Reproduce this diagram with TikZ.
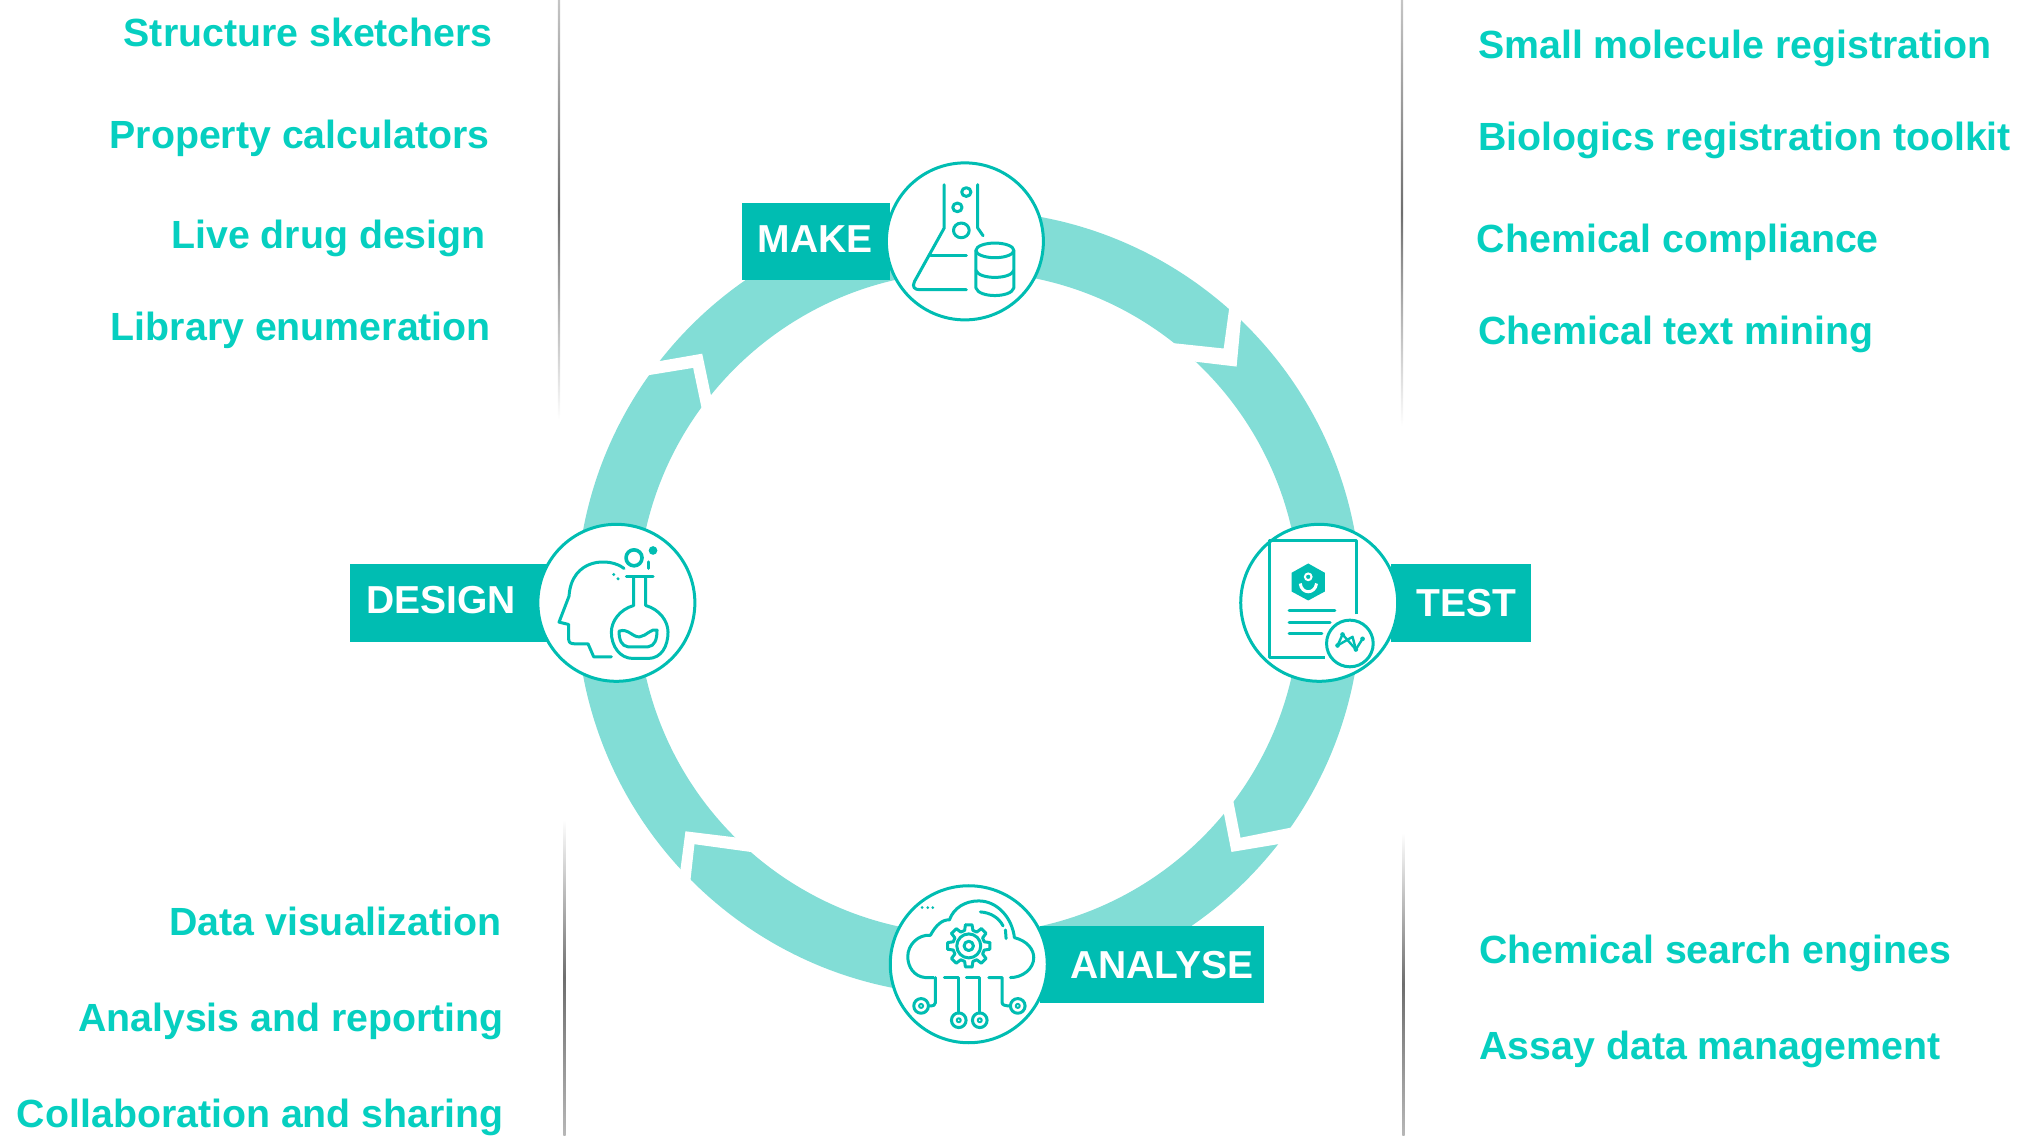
\documentclass[tikz,border=0pt]{standalone}
\usepackage{fontspec}
\setmainfont{Liberation Sans}
\definecolor{ringc}{HTML}{82DDD6}
\definecolor{boxc}{HTML}{00BDB2}
\definecolor{txtc}{HTML}{06CFC0}
\definecolor{rulec}{HTML}{6E6E6E}
\tikzset{
  itemr/.style={anchor=base east,text=txtc,font=\fontsize{39.3}{44}\selectfont\bfseries,inner sep=0pt},
  iteml/.style={anchor=base west,text=txtc,font=\fontsize{39.3}{44}\selectfont\bfseries,inner sep=0pt},
  stagebox/.style={fill=boxc,draw=none,minimum height=77.4pt,inner sep=0pt},
  stagetext/.style={text=white,font=\fontsize{39}{44}\selectfont\bfseries,inner sep=0pt},
  disc/.style={circle,fill=white,draw=boxc,line width=3pt,minimum size=157pt,inner sep=0pt},
  ic/.style={draw=boxc,line width=3pt,line cap=round,line join=round},
  icf/.style={fill=boxc,draw=none},
  gapw/.style={fill=white,draw=none},
  vruletop/.style={top color=rulec!40,bottom color=white,middle color=rulec,draw=none},
  vrulebot/.style={top color=white,bottom color=rulec!50,middle color=rulec,draw=none}
}
\begin{document}
\begin{tikzpicture}[x=1.2908pt,y=-1.2908pt]
\useasboundingbox (0,0) rectangle (1568,879.3);
% ring
\fill[ringc,even odd rule] (750.5,467) circle [radius=304] (750.5,467) circle [radius=256.5];
% gaps
\fill[gapw] (954,226)--(948,270)--(901,265)--(916,279)--(958,284)--(963,230)--cycle;
\fill[gapw] (952,603)--(961,649)--(1011,639)--(1002,652)--(954,660)--(945,614)--cycle;
\fill[gapw] (533,699)--(538,654)--(596,662)--(580,650)--(531,644)--(525,690)--cycle;
\fill[gapw] (488,293)--(537,285)--(546,328)--(553,317)--(544,274)--(498,282)--cycle;
% rules
\fill[vruletop] (432.2,0) rectangle (434,325);
\fill[vruletop] (1085.2,0) rectangle (1087,330);
\fill[vrulebot] (436.4,635) rectangle (438.2,879.3);
\fill[vrulebot] (1086.4,645) rectangle (1088.2,879.3);
% boxes
\node[stagebox,minimum width=148pt,anchor=west] (makebox) at (575,187) {};
\node[stagetext] (maket) at (631.5,185) {MAKE};
\node[stagebox,minimum width=199pt,anchor=west] (designbox) at (271,467) {};
\node[stagetext] (designt) at (341.5,465) {DESIGN};
\node[stagebox,minimum width=140pt,anchor=east] (testbox) at (1186,467) {};
\node[stagetext] (testt) at (1136,467) {TEST};
\node[stagebox,minimum width=224pt,anchor=east] (analysebox) at (979,747) {};
\node[stagetext] (analyset) at (900,748) {ANALYSE};
% discs
\node[disc] (make) at (747.5,187) {};
\node[disc] (design) at (477.5,467) {};
\node[disc] (test) at (1022,467) {};
\node[disc] (analyse) at (750.5,747) {};
% MAKE icon
\begin{scope}[shift={(make.center)},x=0.357pt,y=-0.3333pt,shift={(-686,-305)}]
\draw[ic] (628,135)--(628,265)--(545,425) .. controls (537,442) and (545,450) .. (560,450)--(690,450);
\draw[ic] (722,135)--(722,265)--(737,288);
\draw[ic] (590,347)--(690,347);
\draw[ic] (690,157) circle [radius=13];
\draw[ic] (665,203) circle [radius=13];
\draw[ic] (676,272) circle [radius=22];
\draw[ic] (770,332) ellipse [x radius=53,y radius=22];
\draw[ic] (717,332)--(717,445) .. controls (725,475) and (815,475) .. (823,445)--(823,332);
\draw[ic] (717,392) .. controls (725,420) and (815,420) .. (823,392);
\end{scope}
% DESIGN icon
\begin{scope}[shift={(design.center)},x=0.3333pt,y=-0.3333pt,shift={(-830,-310)}]
\draw[ic] (853,207) .. controls (810,172) and (695,175) .. (688,290)--(658,368)--(687,375)--(687,420) .. controls (687,430) and (695,433) .. (705,433)--(745,433)--(762,472)--(815,472);
\fill[icf] (822,225) circle [radius=5];
\fill[icf] (835,238) circle [radius=5];
\draw[ic,line width=3.6pt] (883,175) circle [radius=24];
\fill[icf] (940,153) circle [radius=13];
\draw[ic] (926,187)--(926,207);
\draw[ic] (860,232)--(940,232);
\draw[ic] (882,232)--(882,318) .. controls (840,330) and (815,365) .. (815,398) .. controls (815,440) and (840,477) .. (880,477)--(925,477) .. controls (965,477) and (985,440) .. (985,398) .. controls (985,365) and (960,330) .. (918,318)--(918,232);
\draw[ic] (838,395) .. controls (865,385) and (880,415) .. (900,412) .. controls (920,410) and (935,385) .. (952,392) .. controls (952,420) and (945,440) .. (925,442)--(865,442) .. controls (845,440) and (838,420) .. (838,395)--cycle;
\end{scope}
% TEST icon
\begin{scope}[shift={(test.center)},x=0.3333pt,y=-0.3333pt,shift={(-295,-310)}]
\draw[ic,line cap=butt] (408,345)--(408,122)--(147,122)--(147,475)--(312,475);
\fill[icf] (262,192)--(312,220)--(312,276)--(262,303)--(212,276)--(212,220)--cycle;
\draw[white,line width=2pt] (262,232) circle [radius=10];
\draw[white,line width=3pt] (238,252) .. controls (242,285) and (282,285) .. (287,252);
\draw[ic] (205,333)--(342,333);
\draw[ic] (205,368)--(328,368);
\draw[ic] (205,403)--(303,403);
\draw[ic,fill=white] (387,432) circle [radius=70];
\draw[ic,line width=2.4pt] (350,438)--(365,405)--(405,450)--(425,418);
\draw[ic,line width=2.4pt] (350,438)--(395,412)--(405,450);
\foreach \p in {(350,438),(365,405),(405,450),(425,418)} \fill[icf] \p circle [radius=7];
\end{scope}
% ANALYSE icon
\begin{scope}[shift={(analyse.center)},x=0.3333pt,y=-0.3333pt,shift={(-265,-285)}]
\draw[ic] (160,325)--(135,325) .. controls (100,322) and (82,292) .. (82,262) .. controls (82,225) and (115,195) .. (150,198) .. controls (165,170) and (185,150) .. (207,152) .. controls (220,115) and (255,95) .. (295,95) .. controls (350,95) and (395,145) .. (402,205) .. controls (440,215) and (460,240) .. (460,265) .. controls (460,300) and (425,325) .. (390,325);
\draw[ic] (300,128) .. controls (330,130) and (355,145) .. (368,170);
\draw[ic] (375,182)--(377,208);
\begin{scope}[shift={(265,230)}]
\foreach \a in {0,45,...,315} \draw[ic] (\a-9:64)--(\a+9:64)--(\a+15:48)--(\a+30:48)--(\a+36:64);
\draw[ic] (0,0) circle [radius=36];
\draw[ic] (0,0) circle [radius=14];
\end{scope}
\draw[ic] (165,325)--(165,400) .. controls (165,408) and (160,410) .. (145,410);
\draw[ic] (192,325)--(235,325)--(235,432);
\draw[ic] (258,325)--(298,325)--(298,432);
\draw[ic] (325,325)--(365,325)--(365,400) .. controls (365,408) and (375,410) .. (390,410);
\foreach \p in {(122,410),(235,453),(298,453),(412,410)} {\draw[ic] \p circle [radius=22]; \draw[ic,line width=2pt] \p circle [radius=6];}
\foreach \p in {(125,115),(142,115),(157,115)} \fill[icf] \p circle [radius=4.5];
\end{scope}
% texts
\node[itemr] (t1) at (382,36) {Structure sketchers};
\node[itemr] (t2) at (379.5,115) {Property calculators};
\node[itemr] (t3) at (376.5,192.5) {Live drug design};
\node[itemr] (t4) at (380.5,264) {Library enumeration};
\node[itemr] (t5) at (388.5,724.5) {Data visualization};
\node[itemr] (t6) at (390.5,799) {Analysis and reporting};
\node[itemr] (t7) at (390.5,873.5) {Collaboration and sharing};
\node[iteml] (r1) at (1145,45) {Small molecule registration};
\node[iteml] (r2) at (1145,116.5) {Biologics registration toolkit};
\node[iteml] (r3) at (1144,195.5) {Chemical compliance};
\node[iteml] (r4) at (1145,267) {Chemical text mining};
\node[iteml] (r5) at (1146,746.5) {Chemical search engines};
\node[iteml] (r6) at (1146,821) {Assay data management};
\end{tikzpicture}
\end{document}
